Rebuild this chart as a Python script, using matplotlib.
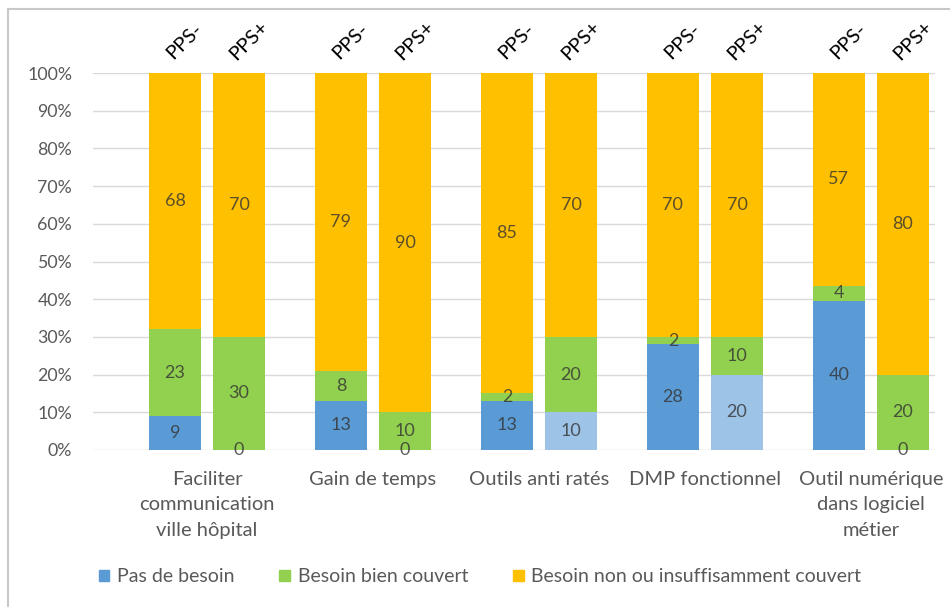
import matplotlib
matplotlib.use("Agg")
import matplotlib.pyplot as plt
import numpy as np
from matplotlib.patches import Rectangle, Patch

plt.rcParams['font.family'] = ['Lato', 'DejaVu Sans']

categories = ["Faciliter\ncommunication\nville hôpital", "Gain de temps", "Outils anti ratés",
              "DMP fonctionnel", "Outil numérique\ndans logiciel\nmétier"]
groups = ["PPS-", "PPS+"]
series = ["Pas de besoin", "Besoin bien couvert", "Besoin non ou insuffisamment couvert"]

pas_moins = [9, 13, 13, 28, 40]
bien_moins = [23, 8, 2, 2, 4]
non_moins = [68, 79, 85, 70, 57]

pas_plus = [0, 0, 10, 20, 0]
bien_plus = [30, 10, 20, 10, 20]
non_plus = [70, 90, 70, 70, 80]

yticks = list(range(0, 101, 10))

BLUE = '#5B9BD5'
LIGHT_BLUE = '#9DC3E6'
GREEN = '#92D050'
ORANGE = '#FFC000'
TXT = '#595959'
# colour of the "Pas de besoin" segment for PPS+ bars (highlighted in two groups)
pas_plus_colors = [BLUE, BLUE, LIGHT_BLUE, LIGHT_BLUE, BLUE]

fig = plt.figure(figsize=(9.5, 6.07), dpi=100)
W, H = 950, 607
ax = fig.add_axes([93 / W, 1 - 450 / H, (935 - 93) / W, (450 - 73) / H])

x = np.arange(len(categories))
off = 0.193
bw = 0.313

def draw(xpos, pas, bien, non, pas_cols):
    pas = np.array(pas, float); bien = np.array(bien, float); non = np.array(non, float)
    tot = pas + bien + non
    p1 = pas / tot * 100; p2 = bien / tot * 100; p3 = non / tot * 100
    ax.bar(xpos, p1, bw, color=pas_cols, zorder=2)
    ax.bar(xpos, p2, bw, bottom=p1, color=GREEN, zorder=2)
    ax.bar(xpos, p3, bw, bottom=p1 + p2, color=ORANGE, zorder=2)
    for i in range(len(xpos)):
        for val, b, h in ((pas[i], 0, p1[i]), (bien[i], p1[i], p2[i]), (non[i], p1[i] + p2[i], p3[i])):
            ax.text(xpos[i], b + h / 2, f"{int(val)}", ha='center', va='center',
                    fontsize=13, color='#333333', alpha=0.8, zorder=3)

draw(x - off, pas_moins, bien_moins, non_moins, [BLUE] * 5)
draw(x + off, pas_plus, bien_plus, non_plus, pas_plus_colors)

for i in range(len(categories)):
    for j, g in enumerate(groups):
        xp = x[i] + (-off if j == 0 else off)
        ax.annotate(g, xy=(xp, 108.5), xytext=(7, 0), textcoords='offset points',
                    rotation=45, ha='center', va='center', fontsize=14.5, color='black',
                    annotation_clip=False)

ax.set_xlim(-0.687, 4.386)
ax.set_ylim(0, 100)
ax.set_yticks(yticks)
ax.set_yticklabels([f"{t}%" for t in yticks])
ax.set_xticks(x)
ax.set_xticklabels(categories, linespacing=1.6)
ax.tick_params(axis='y', length=0, pad=15, labelsize=12.8, labelcolor=TXT)
ax.tick_params(axis='x', length=0, pad=15, labelsize=14.5, labelcolor=TXT)
for s in ax.spines.values():
    s.set_visible(False)
ax.grid(axis='y', color='#D9D9D9', linewidth=1, zorder=0)
ax.set_axisbelow(True)

handles = [Patch(color=BLUE), Patch(color=GREEN), Patch(color=ORANGE)]
leg = fig.legend(handles, series, loc='center', bbox_to_anchor=(480 / W, 1 - 577 / H), ncol=3,
                 frameon=False, fontsize=14, handlelength=0.55, handleheight=0.55,
                 handletextpad=0.4, columnspacing=2.3)
for t in leg.get_texts():
    t.set_color(TXT)

fig.patches.append(Rectangle((8 / W, -0.1), 1.2, 1 - 9 / H + 0.1, transform=fig.transFigure,
                             fill=False, edgecolor='#C8C8C8', linewidth=1.5))

fig.savefig("out.png", dpi=100)
